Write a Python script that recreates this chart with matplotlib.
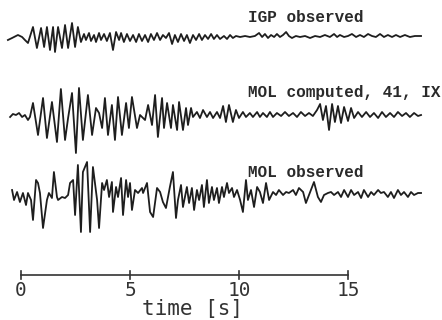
#!/usr/bin/env python3
import matplotlib
matplotlib.use("Agg")
import matplotlib.pyplot as plt

# time [s] and amplitude (arbitrary units) of the three seismograms
igp_t = [-0.60, -0.41, -0.14, 0.05, 0.18, 0.32, 0.55, 0.73, 0.92, 1.06, 1.19, 1.33, 1.47, 1.56,
	1.70, 1.88, 2.02, 2.16, 2.34, 2.48, 2.61, 2.75, 2.89, 2.98, 3.12, 3.21, 3.35, 3.44, 3.58,
	3.67, 3.81, 3.94, 4.08, 4.22, 4.36, 4.50, 4.59, 4.72, 4.86, 5.00, 5.14, 5.28, 5.41, 5.55,
	5.69, 5.83, 5.96, 6.10, 6.24, 6.38, 6.51, 6.65, 6.79, 6.93, 7.06, 7.20, 7.34, 7.48, 7.61,
	7.75, 7.89, 8.03, 8.17, 8.30, 8.44, 8.58, 8.72, 8.85, 8.99, 9.13, 9.31, 9.45, 9.59, 9.72,
	9.86, 10.05, 10.28, 10.50, 10.73, 10.92, 11.06, 11.19, 11.33, 11.47, 11.61, 11.74, 11.88,
	12.02, 12.16, 12.29, 12.43, 12.61, 12.80, 13.03, 13.26, 13.49, 13.72, 13.94, 14.17, 14.36,
	14.50, 14.63, 14.82, 15.00, 15.18, 15.37, 15.55, 15.73, 15.92, 16.10, 16.28, 16.47, 16.65,
	16.83, 17.02, 17.20, 17.39, 17.61, 17.84, 18.07, 18.35]
igp_a = [-2, 0, 3, 1, -2, -5, 11, -10, 10, -9, 11, -12, 11, -14,
	11, -10, 13, -10, 15, -9, 11, -4, 4, -2, 5, -3, 3, -4, 5,
	-2, 4, -3, 5, -12, 6, -2, 5, -4, 4, -3, 3, -4, 4, -3,
	3, -4, 4, -2, 5, -2, 3, 0, 5, -6, 3, -4, 4, -3, 3,
	-5, 3, -2, 4, -2, 3, -1, 4, -1, 3, -1, 2, -1, 3, 0,
	2, 1, 2, 1, 2, 5, 1, 4, 0, 3, 1, 4, 1,
	3, 6, 2, 0, 2, 1, 2, 0, 2, 1, 3, 1, 4,
	1, 3, 1, 2, 4, 1, 3, 1, 4, 2, 1, 4, 1,
	3, 1, 3, 1, 3, 1, 2, 2]

mol_comp_t = [-0.50, -0.37, -0.23, -0.09, 0.05, 0.18, 0.32, 0.41, 0.55, 0.78, 1.01, 1.19, 1.42,
	1.65, 1.83, 2.02, 2.16, 2.34, 2.52, 2.66, 2.84, 3.07, 3.26, 3.44, 3.58, 3.72, 3.85, 3.99,
	4.17, 4.31, 4.45, 4.63, 4.82, 4.95, 5.09, 5.32, 5.46, 5.69, 5.83, 6.01, 6.15, 6.28, 6.47,
	6.56, 6.70, 6.88, 6.97, 7.16, 7.25, 7.43, 7.57, 7.66, 7.80, 7.89, 8.07, 8.21, 8.35, 8.53,
	8.67, 8.81, 8.99, 9.13, 9.27, 9.40, 9.54, 9.72, 9.86, 10.00, 10.18, 10.32, 10.50, 10.64,
	10.83, 10.96, 11.10, 11.28, 11.42, 11.56, 11.74, 11.93, 12.11, 12.29, 12.48, 12.66, 12.84,
	13.03, 13.21, 13.39, 13.58, 13.72, 13.85, 13.99, 14.13, 14.27, 14.40, 14.54, 14.68, 14.82,
	15.00, 15.14, 15.28, 15.46, 15.64, 15.83, 16.01, 16.19, 16.38, 16.56, 16.74, 16.93, 17.11,
	17.29, 17.48, 17.66, 17.84, 18.03, 18.21, 18.35]
mol_comp_a = [0, 3, 2, 4, 0, 2, -3, 0, 14, -18, 19, -21, 15,
	-25, 28, -23, -1, 24, -36, 29, -23, 22, -18, 9, 4, -11, 19, -18,
	12, -23, 20, -18, 14, -11, 20, -11, 2, -3, 12, -8, 22, -20, 19,
	-11, 14, -11, 12, -13, 15, -13, 9, -8, 9, 0, 5, -1, 7, 0,
	5, -1, 5, -1, 11, -5, 12, -5, 7, -1, 5, 0, 4, 0,
	5, 0, 4, 0, 5, 0, 4, 1, 5, 1, 4, 0, 5,
	1, 4, 1, 7, 13, -3, 11, -13, 13, -5, 11, -6, 10,
	-4, 9, -1, 5, 0, 5, 0, 4, -1, 5, 0, 4, 0,
	5, 1, 4, 0, 4, 1, 2]

mol_obs_t = [-0.41, -0.32, -0.18, -0.05, 0.09, 0.23, 0.32, 0.46, 0.55, 0.69, 0.78, 0.87, 1.01,
	1.19, 1.28, 1.42, 1.51, 1.65, 1.70, 1.88, 2.02, 2.16, 2.25, 2.39, 2.48, 2.61, 2.75, 2.84,
	3.03, 3.17, 3.30, 3.49, 3.58, 3.72, 3.81, 3.94, 4.04, 4.17, 4.22, 4.36, 4.45, 4.59, 4.68,
	4.82, 4.91, 5.00, 5.09, 5.23, 5.37, 5.55, 5.60, 5.78, 5.92, 6.06, 6.24, 6.38, 6.51, 6.65,
	6.83, 6.97, 7.11, 7.20, 7.34, 7.43, 7.61, 7.71, 7.84, 7.94, 8.07, 8.17, 8.30, 8.39, 8.53,
	8.62, 8.76, 8.85, 8.99, 9.08, 9.22, 9.31, 9.45, 9.54, 9.68, 9.77, 9.91, 10.05, 10.18,
	10.32, 10.41, 10.55, 10.69, 10.83, 10.96, 11.10, 11.24, 11.38, 11.56, 11.70, 11.83, 12.02,
	12.16, 12.29, 12.48, 12.61, 12.75, 12.94, 13.07, 13.21, 13.44, 13.62, 13.76, 13.90, 14.08,
	14.22, 14.36, 14.54, 14.68, 14.82, 15.00, 15.14, 15.28, 15.46, 15.60, 15.73, 15.92, 16.06,
	16.19, 16.38, 16.51, 16.65, 16.83, 16.97, 17.11, 17.29, 17.43, 17.57, 17.75, 17.89, 18.03,
	18.21, 18.35]
mol_obs_a = [5, -5, 3, -7, 2, -10, 2, -5, -25, 15, 12, 2, -33,
	-5, 2, -3, 23, -2, -5, -2, -3, 0, 12, 15, -20, 30, -37, 23,
	33, -37, 28, -5, -33, 12, 5, 15, -2, 13, -17, 8, -2, 17, -20,
	15, -2, 12, -15, 5, 2, 7, 2, 12, -17, -22, 7, 3, -7, -13,
	8, 23, -23, -5, 10, -12, 8, -8, 7, -15, 5, -5, 10, -12, 15,
	-8, 8, -5, 7, -8, 8, -2, 12, 2, 7, -2, 5, -5, -17,
	15, -5, 5, -12, 8, 3, -8, 12, -5, 3, 0, 5, 0,
	3, 2, 5, 0, 7, 3, -8, 0, 13, -2, -7, 0, 2,
	3, 0, 3, -2, 5, -2, 5, 0, 3, -3, 5, -2, 3,
	0, 5, 2, 3, -2, 3, -3, 5, 0, 3, -2, 3, 0,
	2, 2]

labels = ["IGP observed", "MOL computed, 41, IX", "MOL observed"]
ticks = [0, 5, 10, 15]

fig = plt.figure(figsize=(4.42, 3.20), dpi=100)
ax = fig.add_axes([0, 0, 1, 1])
ax.set_xlim(-21 / 21.8, 421 / 21.8)
ax.set_ylim(0, 320)
ax.axis("off")

ink = "#1e1e1e"
traces = [(igp_t, igp_a), (mol_comp_t, mol_comp_a), (mol_obs_t, mol_obs_a)]
offsets = [282, 203, 125]
label_y = [297.5, 223, 143]
for (t, a), off, lab, ly in zip(traces, offsets, labels, label_y):
	ax.plot(t, [off + v for v in a], color=ink, lw=1.3, solid_joinstyle="round")
	ax.text(10.4, ly, lab, family="Liberation Mono", fontsize=11.5, fontweight="bold",
		color="#2a2a2a", va="baseline")

# time axis
axis_y = 45
ax.plot([ticks[0], ticks[-1]], [axis_y, axis_y], color="#333333", lw=1.2)
for tk in ticks:
	ax.plot([tk, tk], [axis_y - 4, axis_y + 4], color="#333333", lw=1.2)
	ax.text(tk, axis_y - 6, str(tk), family="DejaVu Sans Mono", fontsize=14,
		color="#333333", ha="center", va="top")
ax.text(7.85, 1, "time [s]", family="DejaVu Sans Mono", fontsize=15, color="#333333",
	ha="center", va="bottom")

fig.savefig("out.png", dpi=100)
